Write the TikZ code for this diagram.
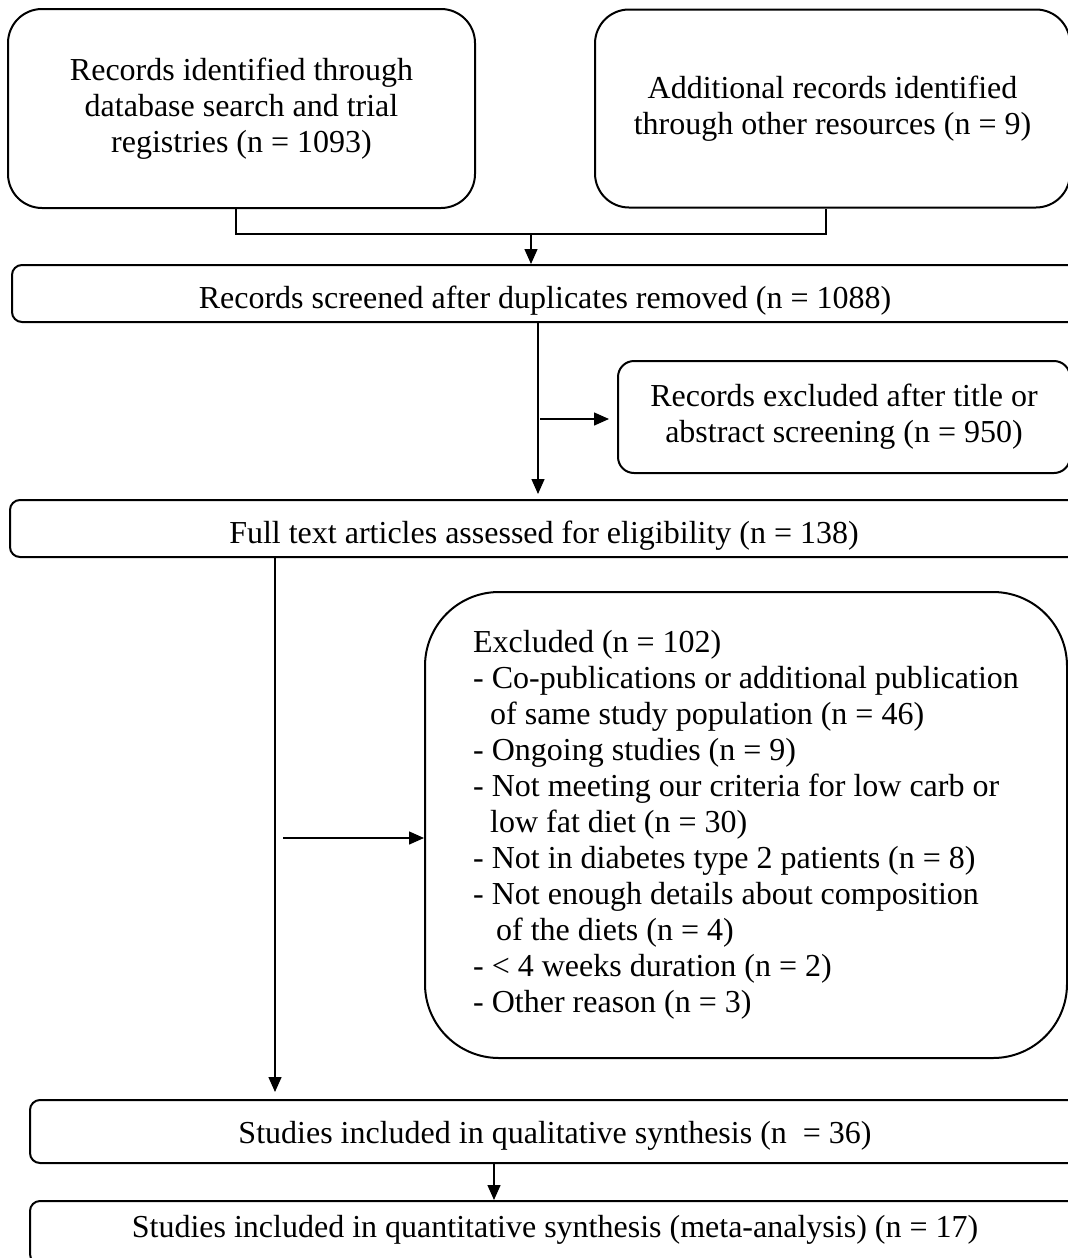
\documentclass[tikz,border=0pt]{standalone}
\usepackage{fontspec}
\setmainfont{Liberation Serif}
\usetikzlibrary{arrows.meta}

\begin{document}
\begin{tikzpicture}[x=0.5pt,y=-0.5pt,
    box/.style={draw,line width=1pt,inner sep=0pt,align=center,font=\fontsize{16}{18}\selectfont},
    conn/.style={line width=.7pt},
    arr/.style={conn,-{Triangle[length=7.5pt,width=6.5pt]}}]
  \useasboundingbox (0,0) rectangle (1067,1258);

  % two sources
  \node[box,rounded corners=17pt,minimum width=233.5pt,minimum height=99.5pt] (db) at (241.5,108.5)
    {Records identified through\\database search and trial\\registries (n = 1093)};
  \node[box,rounded corners=17pt,minimum width=237.5pt,minimum height=99pt] (other) at (832.5,108.5)
    {Additional records identified\\through other resources (n = 9)};

  % long bars
  \foreach \n/\x/\y/\w/\h/\th/\t in {
      screen/545/293.5/533/28.5/14.5/Records screened after duplicates removed (n = 1088),
      full/544/528.5/534/28.5/14.5/Full text articles assessed for eligibility (n = 138),
      qual/555/1131.5/525/31.5/11.5/Studies included in qualitative synthesis (n \ = 36),
      quant/555/1232.5/525/31.5/4.5/Studies included in quantitative synthesis (meta-analysis) (n = 17)} {
    \node[box,rounded corners=5pt,minimum width=\w pt,minimum height=\h pt,
      text height=\th pt,text depth=0pt] (\n) at (\x,\y) {\t};
  }

  % exclusions
  \node[box,rounded corners=8pt,minimum width=226pt,minimum height=56pt] (excl1) at (844,417)
    {Records excluded after title or\\abstract screening (n = 950)};
  \node[box,rounded corners=37pt,minimum width=321pt,minimum height=233pt,align=left] (excl2) at (746,825)
    {Excluded (n = 102)\\
     - Co-publications or additional publication\\
     \hspace*{8.5pt}of same study population (n = 46)\\
     - Ongoing studies (n = 9)\\
     - Not meeting our criteria for low carb or\\
     \hspace*{8.5pt}low fat diet (n = 30)\\
     - Not in diabetes type 2 patients (n = 8)\\
     - Not enough details about composition\\
     \hspace*{11.5pt}of the diets (n = 4)\\
     - < 4 weeks duration (n = 2)\\
     - Other reason (n = 3)};

  \coordinate (j) at (531,234);
  \coordinate (k) at (538,419);
  \coordinate (m) at (275,838);

  \draw[conn] ([xshift=-2.75pt]db.south) |- (j) -| ([xshift=-3.25pt]other.south);
  \draw[arr] (j) -- (j |- screen.north);
  \draw[arr,shorten >=2.5pt] (k |- screen.south) -- (k |- full.north);
  \draw[arr,shorten >=4pt] ([xshift=1pt]k) -- (k -| excl1.west);
  \draw[arr,shorten >=3.5pt] (m |- full.south) -- (m |- qual.north);
  \draw[arr] ([xshift=4pt]m) -- (m -| excl2.west);
  \draw[arr] ([xshift=-30.5pt]qual.south) -- ([xshift=-30.5pt]quant.north);
\end{tikzpicture}
\end{document}
